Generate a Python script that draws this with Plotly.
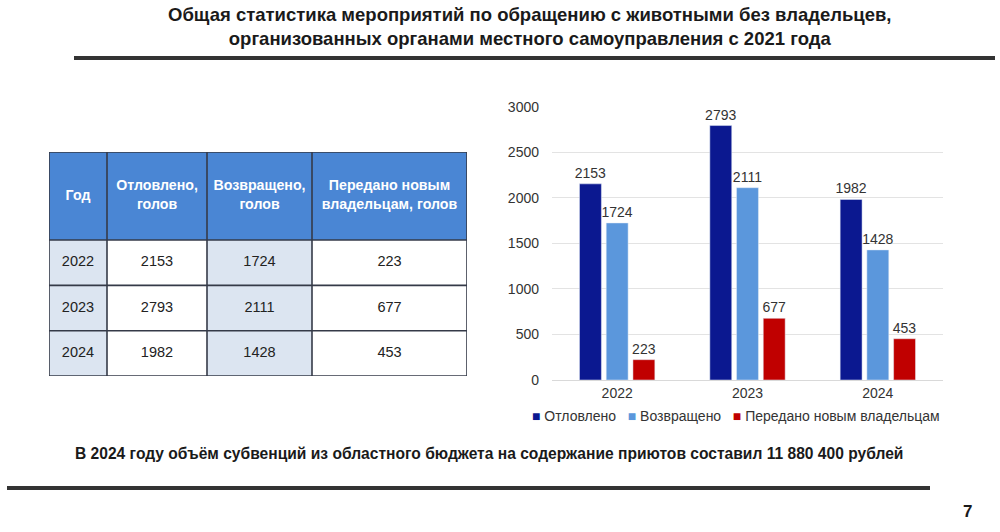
import plotly.graph_objects as go

years = ["2022", "2023", "2024"]
caught = [2153, 2793, 1982]
returned = [1724, 2111, 1428]
transferred = [223, 677, 453]
series_names = ["Отловлено", "Возвращено", "Передано новым владельцам"]
table_headers = ["Год", "Отловлено,<br>голов", "Возвращено,<br>голов",
                 "Передано новым<br>владельцам, голов"]
title_text = ("<b>Общая статистика мероприятий по обращению с животными без владельцев,<br>"
              "организованных органами местного самоуправления с 2021 года</b>")
footer_text = ("<b>В 2024 году объём субвенций из областного бюджета на содержание приютов "
               "составил 11 880 400 рублей</b>")
page_no = "7"

W, H = 1000, 532
ARIAL = "Liberation Sans, Arial, sans-serif"
colors = ["#0b1890", "#5b97dc", "#c00000"]

# table geometry (in table-axis units)
col_widths = [58, 100, 105, 155]
header_h = 88
row_h = 45.3
col_fills = ["#dce5f1", "#ffffff", "#dce5f1", "#ffffff"]
header_fill = "#4a86d4"
border = "#353a48"

fig = go.Figure()

# ---- Bars ----
for name, vals, col in zip(series_names, [caught, returned, transferred], colors):
    fig.add_trace(go.Bar(
        x=years, y=vals, name=name, marker_color=col,
        text=[str(v) for v in vals], textposition="outside", constraintext="none",
        textfont=dict(family=ARIAL, size=14, color="#333333"),
        cliponaxis=False, showlegend=False, xaxis="x", yaxis="y",
    ))

# ---- Table on its own axes ----
edges = [0]
for w in col_widths:
    edges.append(edges[-1] + w)
row_edges = [0, header_h] + [header_h + row_h * (i + 1) for i in range(len(years))]
total_w, total_h = edges[-1], row_edges[-1]

shapes = []
shapes.append(dict(type="rect", xref="x2", yref="y2", x0=0, x1=total_w, y0=0, y1=header_h,
                   fillcolor=header_fill, line=dict(width=0), layer="below"))
for c in range(len(col_widths)):
    shapes.append(dict(type="rect", xref="x2", yref="y2", x0=edges[c], x1=edges[c + 1],
                       y0=header_h, y1=total_h, fillcolor=col_fills[c], line=dict(width=0),
                       layer="below"))
for xe in edges:
    shapes.append(dict(type="line", xref="x2", yref="y2", x0=xe, x1=xe, y0=0, y1=total_h,
                       line=dict(color=border, width=1.6)))
for ye in row_edges:
    shapes.append(dict(type="line", xref="x2", yref="y2", x0=0, x1=total_w, y0=ye, y1=ye,
                       line=dict(color=border, width=1.6)))

centers_x = [(edges[i] + edges[i + 1]) / 2 for i in range(len(col_widths))]
fig.add_trace(go.Scatter(
    x=centers_x, y=[header_h / 2] * 4, text=table_headers, mode="text",
    textposition="middle center",
    textfont=dict(family=ARIAL, size=14.2, color="white", weight="bold"),
    xaxis="x2", yaxis="y2", showlegend=False, hoverinfo="skip",
))
columns = [years, caught, returned, transferred]
tx, ty, tt = [], [], []
for c, colvals in enumerate(columns):
    for r, v in enumerate(colvals):
        tx.append(centers_x[c])
        ty.append((row_edges[r + 1] + row_edges[r + 2]) / 2)
        tt.append(str(v))
fig.add_trace(go.Scatter(
    x=tx, y=ty, text=tt, mode="text", textposition="middle center",
    textfont=dict(family=ARIAL, size=14.5, color="#222222"),
    xaxis="x2", yaxis="y2", showlegend=False, hoverinfo="skip",
))

legend_text = "   ".join(
    f"<span style='color:{c}'>■</span> {n}" for n, c in zip(series_names, colors))

fig.update_layout(
    width=W, height=H,
    margin=dict(l=0, r=0, t=0, b=0, autoexpand=False),
    paper_bgcolor="white", plot_bgcolor="rgba(0,0,0,0)",
    barmode="group", bargap=0.385, bargroupgap=0.18,
    showlegend=False,
    xaxis=dict(domain=[552 / W, 943 / W], showgrid=False, showline=True,
               linecolor="#d9d9d9", linewidth=1, ticks="", fixedrange=True,
               tickfont=dict(family=ARIAL, size=14, color="#333333")),
    yaxis=dict(domain=[1 - 380 / H, 1 - 106.7 / H], range=[0, 3000], dtick=500,
               showgrid=True, gridcolor="#e3e3e3", zeroline=False,
               showline=False, ticks="", ticklabelstandoff=12, fixedrange=True,
               tickfont=dict(family=ARIAL, size=14, color="#333333")),
    xaxis2=dict(domain=[49 / W, 467 / W], range=[0, total_w], visible=False,
                anchor="y2", fixedrange=True),
    yaxis2=dict(domain=[1 - 376 / H, 1 - 152 / H], range=[total_h, 0], visible=False,
                anchor="x2", fixedrange=True),
    shapes=shapes,
    font=dict(family=ARIAL),
)

fig.add_annotation(text=legend_text, x=736 / W, y=1 - 416 / H, xref="paper", yref="paper",
                   showarrow=False, xanchor="center", yanchor="middle",
                   font=dict(family=ARIAL, size=14, color="#333333"))
fig.add_annotation(text=title_text, x=530 / W, y=1 - 26 / H, xref="paper", yref="paper",
                   showarrow=False, xanchor="center", yanchor="middle",
                   font=dict(family=ARIAL, size=18.5, color="#1a1a1a"))
fig.add_annotation(text=footer_text, x=489 / W, y=1 - 453 / H, xref="paper", yref="paper",
                   showarrow=False, xanchor="center", yanchor="middle",
                   font=dict(family=ARIAL, size=15.6, color="#1a1a1a"))
fig.add_annotation(text=f"<b>{page_no}</b>", x=967 / W, y=1 - 511 / H, xref="paper",
                   yref="paper", showarrow=False, xanchor="center", yanchor="middle",
                   font=dict(family=ARIAL, size=17, color="#1a1a1a"))

fig.add_shape(type="line", xref="paper", yref="paper", x0=74 / W, x1=995 / W,
              y0=1 - 58 / H, y1=1 - 58 / H, line=dict(color="#333333", width=4))
fig.add_shape(type="line", xref="paper", yref="paper", x0=7 / W, x1=930 / W,
              y0=1 - 488 / H, y1=1 - 488 / H, line=dict(color="#333333", width=4))

fig.write_html("out.html", config=dict(displayModeBar=False),
               post_script="document.body.style.margin='0';")
